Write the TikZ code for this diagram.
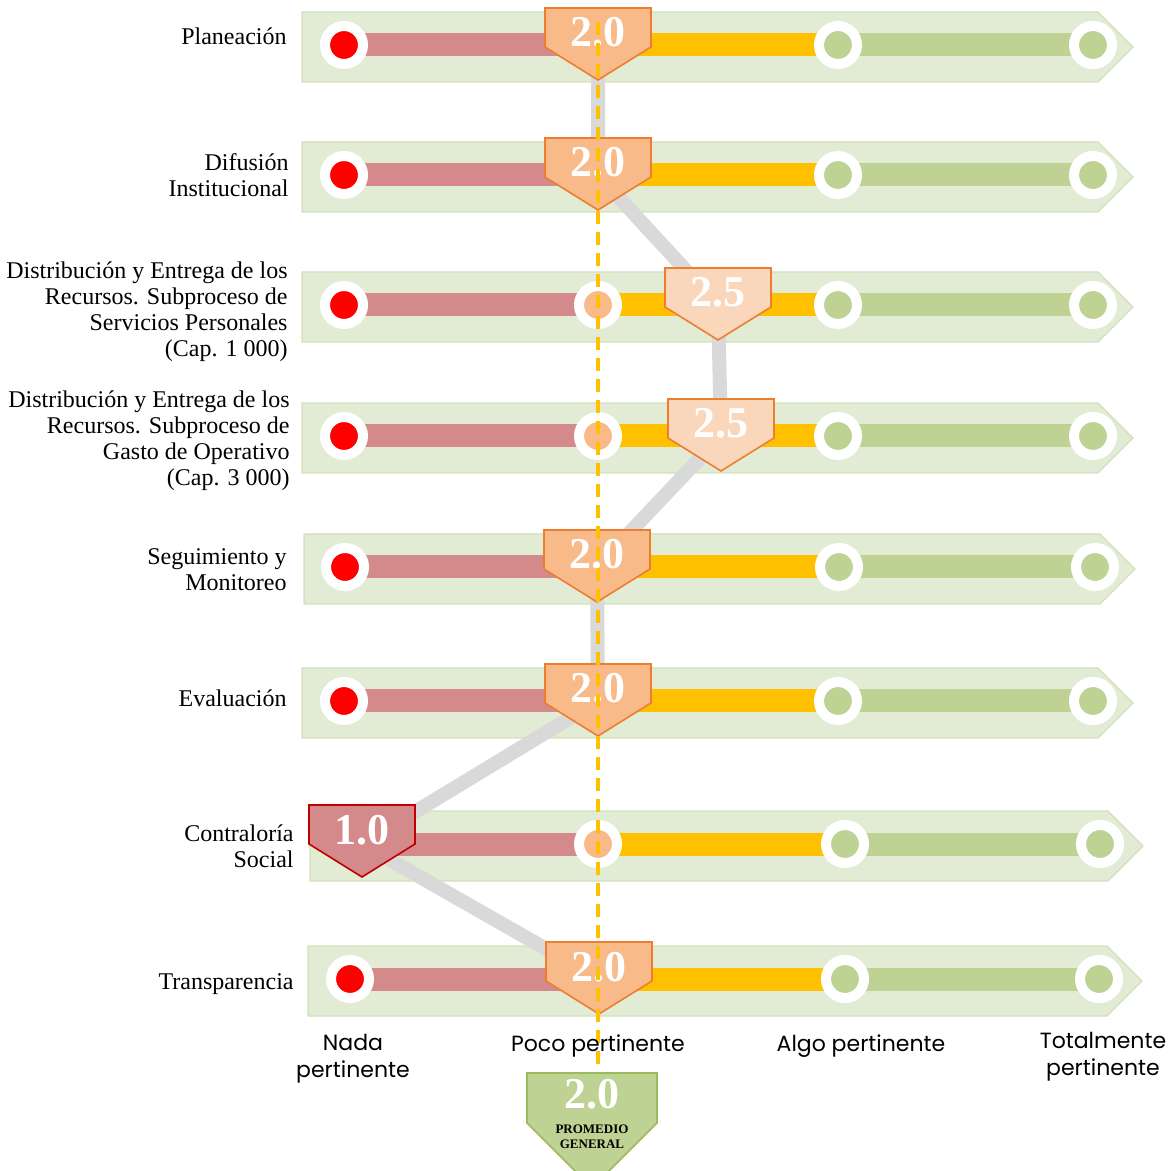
\documentclass[tikz,border=0pt]{standalone}
\usepackage{fontspec}
\setmainfont{Liberation Serif}
\newfontfamily\axisfont{Poppins}
\usetikzlibrary{calc,positioning}

\definecolor{bandgreen}{HTML}{E2EBD3}
\definecolor{bandedge}{HTML}{D3E0BC}
\definecolor{trackred}{HTML}{D48A8A}
\definecolor{trackyellow}{HTML}{FFC000}
\definecolor{trackgreen}{HTML}{BDD293}
\definecolor{dotred}{HTML}{FF0000}
\definecolor{dotorange}{HTML}{F8BA88}
\definecolor{mkorange}{HTML}{F8BA88}
\definecolor{mklight}{HTML}{FAD7BA}
\definecolor{mkedge}{HTML}{ED7D31}
\definecolor{mkred}{HTML}{D48A8A}
\definecolor{mkrededge}{HTML}{C00000}
\definecolor{mkgreen}{HTML}{BDD293}
\definecolor{mkgreenedge}{HTML}{9BBB59}
\definecolor{pathgray}{HTML}{D9D9D9}

\begin{document}
\begin{tikzpicture}
  [x=0.5pt,y=-0.5pt,
  band/.style={fill=bandgreen,draw=bandedge,line width=0.6pt},
  track/.style={line width=11.5pt},
  knob/.style={circle,draw=white,line width=5pt,minimum size=19pt,inner sep=0pt,fill=#1},
  score/.style={line width=0.8pt,line join=miter},
  scoretext/.style={text=white,font=\fontsize{22}{22}\selectfont\bfseries,inner sep=0pt,anchor=base},
  rowlabel/.style={anchor=east,align=right,inner sep=0pt,font=\fontsize{12}{13}\selectfont},
  axislabel/.style={align=center,inner sep=0pt,font=\axisfont\fontsize{11}{13.5}\selectfont},
 ]
  \useasboundingbox (0,0) rectangle (1174,1171);

% bands, tracks and stops
\foreach \y/\l/\r/\n/\a/\t [count=\i] in {45/302/1098/344/838/1093,
    175/302/1098/344/838/1093, 305/302/1098/344/838/1093,
    436/302/1098/344/838/1093, 567/304/1100/345/839/1095,
    701/302/1098/344/838/1093, 844/310/1108/360/845/1100,
    979/308/1107/350/845/1099}
{
  \draw[band] (\l,\y-33) -- (\r,\y-33) -- (\r+35,\y+2) -- (\r,\y+37) -- (\l,\y+37) -- cycle;
  \coordinate (n\i) at (\n,\y);
  \coordinate (p\i) at (598,\y);
  \coordinate (a\i) at (\a,\y);
  \coordinate (t\i) at (\t,\y);
  \draw[track,trackred] (n\i) -- (p\i);
  \draw[track,trackyellow] (p\i) -- (a\i);
  \draw[track,trackgreen] (a\i) -- (t\i);
  \node[knob=dotred] (kn\i) at (n\i) {};
  \node[knob=dotorange] (kp\i) at (p\i) {};
  \node[knob=trackgreen] (ka\i) at (a\i) {};
  \node[knob=trackgreen] (kt\i) at (t\i) {};
}

% marker positions
\foreach \i/\mx/\y in {1/598/45, 2/598/175, 3/718/305, 4/721/436,
    5/597/567, 6/598/701, 7/362/844, 8/599/979}
  \coordinate (m\i) at (\mx,\y);

\draw[pathgray,line width=7pt,line join=round]
  (m1) -- (m2) -- (m3) -- (m4) -- (m5) -- (m6) -- (m7) -- (m8);

% score markers
\foreach \i/\mx/\y/\val/\fc/\ec in {1/598/45/2.0/mkorange/mkedge,
    2/598/175/2.0/mkorange/mkedge, 3/718/305/2.5/mklight/mkedge,
    4/721/436/2.5/mklight/mkedge, 5/597/567/2.0/mkorange/mkedge,
    6/598/701/2.0/mkorange/mkedge, 7/362/842/1.0/mkred/mkrededge,
    8/599/979/2.0/mkorange/mkedge}
{
  \draw[score,fill=\fc,draw=\ec] (\mx-53,\y-37) -- (\mx+53,\y-37) -- (\mx+53,\y+2)
    -- (\mx,\y+35) -- (\mx-53,\y+2) -- cycle;
  \node[scoretext] (s\i) at (\mx,\y+2) {\val};
}

% average
\coordinate (dtop) at (598,22);
\coordinate (dbot) at (598,1075);
\draw[trackyellow,line width=2pt,dash pattern=on 6.5pt off 4pt] (dtop) -- (dbot);

\draw[score,fill=mkgreen,draw=mkgreenedge] (527,1073) -- (657,1073) -- (657,1123)
  -- (592,1188) -- (527,1123) -- cycle;
\node[scoretext] (avg) at (592,1108) {2.0};
\node[align=center,inner sep=0pt,font=\fontsize{6.5}{7.5}\selectfont\bfseries]
  (avglabel) at (592,1137) {PROMEDIO\\GENERAL};

% row labels
\node[rowlabel] (r1) at (287,36) {Planeación};
\node[rowlabel] (r2) at (289,175) {Difusión\\Institucional};
\node[rowlabel] (r3) at (288,312) {Distribución y Entrega de los\\Recursos. Subproceso de\\Servicios Personales\\(Cap. 1 000)};
\node[rowlabel] (r4) at (290,441) {Distribución y Entrega de los\\Recursos. Subproceso de\\Gasto de Operativo\\(Cap. 3 000)};
\node[rowlabel] (r5) at (287,570) {Seguimiento y\\Monitoreo};
\node[rowlabel] (r6) at (287,698) {Evaluación};
\node[rowlabel] (r7) at (294,846) {Contraloría\\Social};
\node[rowlabel] (r8) at (294,984) {Transparencia};

% scale labels
\node[axislabel] (x1) at (353,1059) {Nada\\pertinente};
\node[axislabel] (x2) at (598,1046) {Poco pertinente};
\node[axislabel] (x3) at (861,1046) {Algo pertinente};
\node[axislabel] (x4) at (1103,1057) {Totalmente\\pertinente};
\end{tikzpicture}
\end{document}
